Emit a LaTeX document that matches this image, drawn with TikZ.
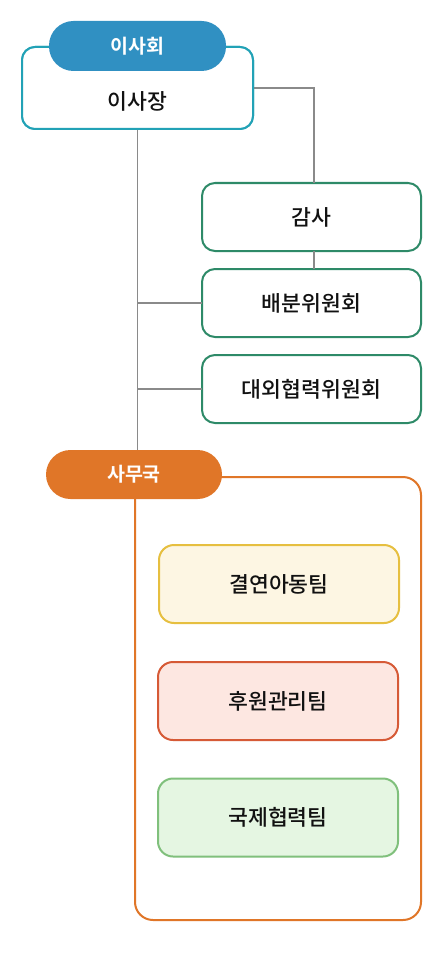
\documentclass[tikz,border=0pt]{standalone}
\usepackage{fontspec}
\newfontfamily\kr{Noto Sans CJK KR}[UprightFont=* Medium, BoldFont=* Bold]
\definecolor{tealline}{HTML}{22A2B6}
\definecolor{tealfill}{HTML}{3090C2}
\definecolor{greenline}{HTML}{2E8A68}
\definecolor{orangeline}{HTML}{E07628}
\definecolor{connline}{HTML}{8A8A8A}
\definecolor{txt}{HTML}{111111}
\definecolor{yfill}{HTML}{FDF6E3}
\definecolor{yline}{HTML}{E6BF40}
\definecolor{rfill}{HTML}{FDE7E1}
\definecolor{rline}{HTML}{D65A36}
\definecolor{gfill}{HTML}{E5F6E2}
\definecolor{gline}{HTML}{80C07C}
\tikzset{
  conn/.style={draw=connline, line width=1.1pt},
  box/.style={rectangle, inner sep=0pt, outer sep=0pt, line width=2pt, rounded corners=13pt, fill=white},
  pill/.style={rectangle, inner sep=0pt, outer sep=0pt, rounded corners=24.5pt, text=white, font=\kr\bfseries\fontsize{19.5}{23}\selectfont},
  lbl/.style={inner sep=0pt, text=txt, font=\kr\fontsize{21.6}{25}\selectfont},
  committee/.style={box, draw=greenline, minimum width=219pt, minimum height=68pt, text=txt, font=\kr\fontsize{21.6}{25}\selectfont},
  team/.style={box, minimum width=240pt, minimum height=78pt, rounded corners=15pt, text=txt, font=\kr\fontsize{21.6}{25}\selectfont}
}
\begin{document}
\begin{tikzpicture}[x=1pt,y=-1pt]
\useasboundingbox (0,0) rectangle (442,960);
\fill[white] (0,0) rectangle (442,960);
% nodes (boxes)
\node[box, draw=tealline, minimum width=231pt, minimum height=82pt] (chair) at (137.5,88) {};
\node[committee] (audit) at (311.5,217) {감사};
\node[committee] (dist) at (311.5,303) {배분위원회};
\node[committee] (ext) at (311.5,389) {대외협력위원회};
\node[box, draw=orangeline, minimum width=286pt, minimum height=443pt, rounded corners=18pt] (office) at (278,698.5) {};
% connectors
\draw[conn] (chair.east) -| ([xshift=2.5pt]audit.north);
\draw[conn] ([xshift=2.5pt]audit.south) -- ([xshift=2.5pt]dist.north);
\coordinate (trunk) at (137.5,450);
\draw[conn] (chair.south) -- (trunk);
\draw[conn] (chair.south |- dist.west) -- (dist.west);
\draw[conn] (chair.south |- ext.west) -- (ext.west);
% redraw boxes over connector ends
\node[box, draw=tealline, minimum width=231pt, minimum height=82pt] at (137.5,88) {};
\node[lbl] (chairtxt) at (137.5,101) {이사장};
\node[pill, fill=tealfill, minimum width=177pt, minimum height=50pt] (board) at (137.5,46) {이사회};
\node[pill, fill=orangeline, minimum width=176pt, minimum height=49pt] (sec) at (134,474.5) {사무국};
% teams
\node[team, draw=yline, fill=yfill] (t1) at (279,584) {결연아동팀};
\node[team, draw=rline, fill=rfill] (t2) at (278,701) {후원관리팀};
\node[team, draw=gline, fill=gfill] (t3) at (278,817.5) {국제협력팀};
\end{tikzpicture}
\end{document}
